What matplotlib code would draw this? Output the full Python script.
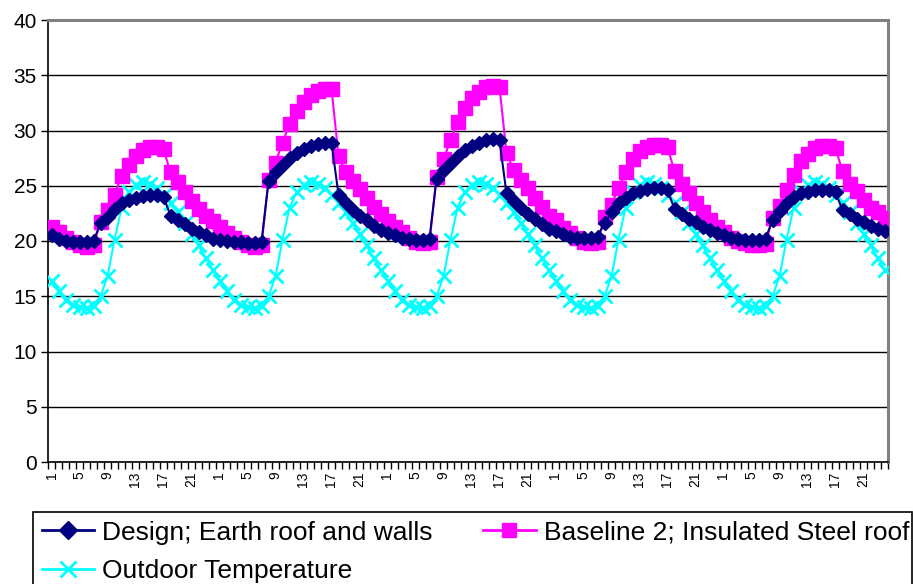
import matplotlib
matplotlib.use("Agg")
import matplotlib.pyplot as plt
from matplotlib.patches import Rectangle
from matplotlib.lines import Line2D

plt.rcParams['font.family'] = ['Liberation Sans', 'DejaVu Sans']

# hour-of-day category labels (5 days x 24 h)
hours = [h for d in range(5) for h in range(1, 25)]

design_d1 = [20.5, 20.2, 20.0, 19.9, 19.9, 19.9, 20.0, 21.6, 22.2, 22.9, 23.4, 23.7, 23.9, 24.1, 24.2, 24.2, 24.0, 22.3, 21.9, 21.5, 21.1, 20.8, 20.5, 20.2]
design_d2 = [20.1, 20.0, 19.9, 19.9, 19.8, 19.8, 19.9, 25.4, 26.2, 26.9, 27.5, 28.0, 28.3, 28.6, 28.8, 28.9, 28.9, 24.2, 23.4, 22.8, 22.3, 21.9, 21.4, 21.0]
design_d3 = [20.7, 20.5, 20.3, 20.2, 20.1, 20.1, 20.2, 25.6, 26.4, 27.1, 27.7, 28.2, 28.6, 28.9, 29.1, 29.2, 29.1, 24.3, 23.6, 23.0, 22.4, 22.0, 21.5, 21.1]
design_d4 = [20.9, 20.6, 20.4, 20.3, 20.3, 20.3, 20.4, 21.6, 22.6, 23.4, 23.9, 24.3, 24.5, 24.7, 24.8, 24.8, 24.6, 22.9, 22.4, 22.0, 21.7, 21.3, 21.0, 20.7]
design_d5 = [20.5, 20.3, 20.2, 20.1, 20.1, 20.1, 20.2, 21.9, 22.7, 23.4, 24.0, 24.3, 24.4, 24.6, 24.6, 24.6, 24.4, 22.8, 22.4, 22.0, 21.7, 21.4, 21.1, 20.9]

baseline_d1 = [21.3, 20.8, 20.3, 19.9, 19.6, 19.5, 19.6, 21.7, 22.8, 24.2, 25.9, 26.9, 27.7, 28.2, 28.5, 28.5, 28.3, 26.2, 25.3, 24.4, 23.6, 22.9, 22.3, 21.8]
baseline_d2 = [21.3, 20.7, 20.3, 19.9, 19.6, 19.5, 19.6, 25.5, 27.1, 28.9, 30.6, 31.8, 32.6, 33.2, 33.6, 33.8, 33.8, 27.7, 26.2, 25.4, 24.7, 23.9, 23.1, 22.4]
baseline_d3 = [21.8, 21.3, 20.8, 20.3, 19.9, 19.8, 19.9, 25.8, 27.4, 29.1, 30.8, 32.0, 32.9, 33.5, 33.9, 34.0, 33.9, 28.0, 26.4, 25.5, 24.8, 23.9, 23.1, 22.3]
baseline_d4 = [21.9, 21.2, 20.7, 20.3, 19.9, 19.8, 19.9, 22.2, 23.3, 24.8, 26.2, 27.4, 28.1, 28.5, 28.7, 28.7, 28.5, 26.3, 25.2, 24.3, 23.4, 22.6, 21.9, 21.3]
baseline_d5 = [20.8, 20.3, 20.0, 19.8, 19.6, 19.6, 19.7, 22.1, 23.2, 24.6, 26.0, 27.2, 27.9, 28.4, 28.6, 28.6, 28.4, 26.3, 25.2, 24.5, 23.7, 23.0, 22.6, 22.1]

outdoor_d1 = [16.4, 15.5, 14.7, 14.2, 14.0, 13.9, 14.1, 15.0, 16.8, 20.1, 23.0, 24.4, 25.1, 25.3, 25.2, 24.8, 24.2, 23.4, 22.6, 21.6, 20.6, 19.6, 18.5, 17.4]
outdoor_d2 = [16.4, 15.5, 14.7, 14.2, 14.0, 13.9, 14.1, 15.0, 16.8, 20.1, 23.0, 24.4, 25.1, 25.3, 25.2, 24.8, 24.2, 23.4, 22.6, 21.6, 20.6, 19.6, 18.5, 17.4]
outdoor_d3 = [16.4, 15.5, 14.7, 14.2, 14.0, 13.9, 14.1, 15.0, 16.8, 20.1, 23.0, 24.4, 25.1, 25.3, 25.2, 24.8, 24.2, 23.4, 22.6, 21.6, 20.6, 19.6, 18.5, 17.4]
outdoor_d4 = [16.4, 15.5, 14.7, 14.2, 14.0, 13.9, 14.1, 15.0, 16.8, 20.1, 23.0, 24.4, 25.1, 25.3, 25.2, 24.8, 24.2, 23.4, 22.6, 21.6, 20.6, 19.6, 18.5, 17.4]
outdoor_d5 = [16.4, 15.5, 14.7, 14.2, 14.0, 13.9, 14.1, 15.0, 16.8, 20.1, 23.0, 24.4, 25.1, 25.3, 25.2, 24.8, 24.2, 23.4, 22.6, 21.6, 20.6, 19.6, 18.5, 17.4]

design = design_d1 + design_d2 + design_d3 + design_d4 + design_d5
baseline = baseline_d1 + baseline_d2 + baseline_d3 + baseline_d4 + baseline_d5
outdoor = outdoor_d1 + outdoor_d2 + outdoor_d3 + outdoor_d4 + outdoor_d5

labels = ["Design; Earth roof and walls", "Baseline 2; Insulated Steel roof", "Outdoor Temperature"]

W, H = 913, 584
fig = plt.figure(figsize=(W / 100, H / 100), dpi=100)
ax = fig.add_axes([48 / W, 1 - 462 / H, 840 / W, 442 / H])

x = list(range(1, len(hours) + 1))
NAVY, MAG, CYAN = '#000080', '#FF00FF', '#00FFFF'

ax.plot(x, outdoor, color=CYAN, lw=1.5, marker='x', ms=10, mew=2, zorder=3)
ax.plot(x, baseline, color=MAG, lw=1.5, marker='s', ms=10, mec=MAG, zorder=4)
ax.plot(x, design, color=NAVY, lw=1.5, marker='D', ms=7.5, mec=NAVY, zorder=5)

ax.set_xlim(0.5, len(hours) + 0.5)
ax.set_ylim(0, 40)
ax.set_yticks(range(0, 45, 5))
ax.yaxis.grid(True, color='black', lw=1)
ax.set_axisbelow(True)

major = [i for i in x if (hours[i - 1] - 1) % 4 == 0]
ax.set_xticks(major)
ax.set_xticklabels([str(hours[i - 1]) for i in major], rotation=90, fontsize=10)
ax.set_xticks([i + 0.5 for i in range(0, len(hours) + 1)], minor=True)
ax.tick_params(axis='x', which='major', length=0, pad=7)
ax.tick_params(axis='x', which='minor', length=5, width=1, direction='out', color='black')
ax.tick_params(axis='y', length=5, width=1, labelsize=15, pad=3, color='black')

for s in ['top', 'right']:
    ax.spines[s].set_color('#808080')
    ax.spines[s].set_linewidth(2.2)
for s in ['left', 'bottom']:
    ax.spines[s].set_color('black')
    ax.spines[s].set_linewidth(1.2)

# legend
fig.patches.append(Rectangle((33 / W, -0.1), 879 / W, 0.1 + 1 - 512 / H,
                             transform=fig.transFigure, fill=False,
                             edgecolor='black', lw=1.2))
handles = [
    Line2D([], [], color=NAVY, lw=2, marker='D', ms=9, mec=NAVY),
    Line2D([], [], color=MAG, lw=2, marker='s', ms=10, mec=MAG),
    Line2D([], [], color=CYAN, lw=2, marker='x', ms=11, mew=2),
]
leg = fig.legend([handles[0], handles[2], handles[1]],
                 [labels[0], labels[2], labels[1]],
                 ncol=2, loc='upper left', bbox_to_anchor=(39 / W, 1 - 518 / H),
                 frameon=False, fontsize=19, handlelength=2.0, handletextpad=0.3,
                 columnspacing=1.9, labelspacing=0.55, borderpad=0.1, borderaxespad=0)

fig.savefig('out.png', dpi=100)
